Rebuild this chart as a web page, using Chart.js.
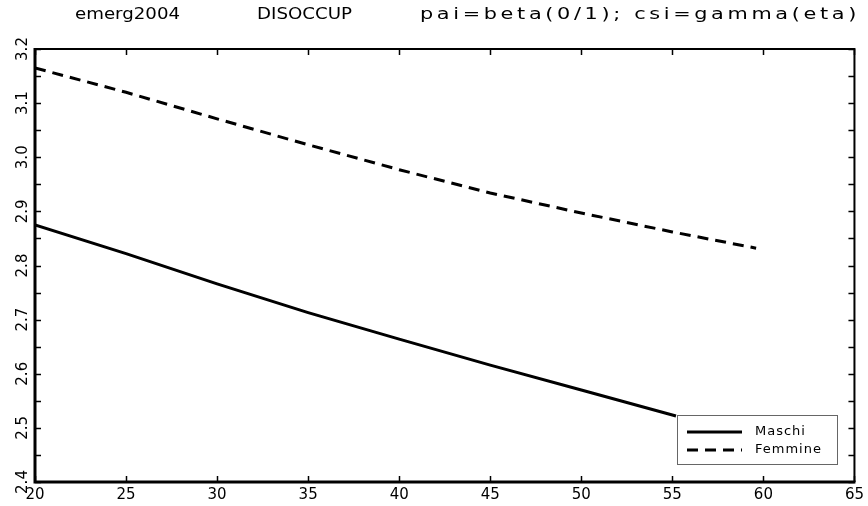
<!DOCTYPE html>
<html>
<head>
<meta charset="utf-8">
<script src="https://cdn.jsdelivr.net/npm/chart.js@4.4.1/dist/chart.umd.min.js"></script>
<style>
html,body{margin:0;padding:0;background:#fff;}
#wrap{width:868px;height:506px;}
</style>
</head>
<body>
<div id="wrap"><canvas id="c" width="868" height="506"></canvas></div>
<script>
// ---- data ----
const titleParts = ["emerg2004", "DISOCCUP", "pai=beta(0/1); csi=gamma(eta)"];
const seriesNames = ["Maschi", "Femmine"];
const agesMaschi = [20, 25, 30, 35, 40, 45, 50, 55.2];
const maschi     = [2.875, 2.822, 2.766, 2.713, 2.664, 2.616, 2.570, 2.522];
const agesFemmine = [20, 25, 30, 35, 40, 45, 50, 55, 59.6];
const femmine     = [3.165, 3.120, 3.071, 3.023, 2.977, 2.934, 2.897, 2.862, 2.832];
const xTicks = [20, 25, 30, 35, 40, 45, 50, 55, 60, 65];
const yTicks = [2.4, 2.5, 2.6, 2.7, 2.8, 2.9, 3.0, 3.1, 3.2];

const FONT = "'DejaVu Sans', sans-serif";

const framePlugin = {
  id: 'frame',
  afterDraw(chart) {
    const ctx = chart.ctx;
    const a = chart.chartArea;
    const xs = chart.scales.x, ys = chart.scales.y;
    ctx.save();
    ctx.strokeStyle = '#000';
    // inward ticks
    ctx.lineWidth = 1.5;
    xTicks.forEach(v => {
      const px = Math.round(xs.getPixelForValue(v)) + 0.5;
      ctx.beginPath();
      ctx.moveTo(px, a.bottom); ctx.lineTo(px, a.bottom - 6);
      ctx.moveTo(px, a.top); ctx.lineTo(px, a.top + 6);
      ctx.stroke();
    });
    for (let i = 0; i < yTicks.length * 2 - 1; i++) {
      const v = yTicks[0] + i * 0.05;
      const py = Math.round(ys.getPixelForValue(v)) + 0.5;
      ctx.beginPath();
      ctx.moveTo(a.left, py); ctx.lineTo(a.left + 6, py);
      ctx.moveTo(a.right, py); ctx.lineTo(a.right - 6, py);
      ctx.stroke();
    }
    // frame
    ctx.lineWidth = 2;
    ctx.beginPath();
    ctx.moveTo(a.left, a.top); ctx.lineTo(a.right, a.top); ctx.lineTo(a.right, a.bottom);
    ctx.stroke();
    ctx.lineWidth = 3;
    ctx.beginPath();
    ctx.moveTo(a.left, a.top - 1); ctx.lineTo(a.left, a.bottom); ctx.lineTo(a.right + 1, a.bottom);
    ctx.stroke();

    // title
    ctx.fillStyle = '#000';
    ctx.font = '16px ' + FONT;
    ctx.textBaseline = 'middle';
    const spans = [[75, 180], [257, 352], [420, 860]];
    titleParts.forEach((t, i) => {
      ctx.letterSpacing = '0px';
      const w = ctx.measureText(t).width;
      const target = spans[i][1] - spans[i][0];
      const sx = Math.min(1.3, target / w);
      const ls = Math.max(0, (target / sx - w) / t.length);
      ctx.save();
      ctx.translate(spans[i][0], 15);
      ctx.scale(sx, 1);
      ctx.letterSpacing = ls.toFixed(2) + 'px';
      ctx.fillText(t, 0, 0);
      ctx.restore();
    });
    ctx.letterSpacing = '0px';

    // legend box
    const lx = 677, ly = 415, lw = 160, lh = 49;
    ctx.fillStyle = '#fff';
    ctx.fillRect(lx, ly, lw, lh);
    ctx.strokeStyle = '#666';
    ctx.lineWidth = 1;
    ctx.strokeRect(lx + 0.5, ly + 0.5, lw, lh);
    chart.data.datasets.forEach((ds, i) => {
      const y = ly + 17 + i * 18;
      ctx.strokeStyle = '#000';
      ctx.lineWidth = 3;
      ctx.setLineDash(ds.borderDash || []);
      ctx.beginPath();
      ctx.moveTo(lx + 10, y); ctx.lineTo(lx + 65, y);
      ctx.stroke();
      ctx.setLineDash([]);
      ctx.fillStyle = '#000';
      ctx.font = '13px ' + FONT;
      ctx.letterSpacing = '1px';
      ctx.textBaseline = 'middle';
      ctx.fillText(ds.label, lx + 78, y);
      ctx.letterSpacing = '0px';
    });
    ctx.restore();
  }
};

new Chart(document.getElementById('c'), {
  type: 'line',
  data: {
    datasets: [
      {
        label: seriesNames[0],
        data: agesMaschi.map((x, i) => ({x: x, y: maschi[i]})),
        borderColor: '#000', borderWidth: 3, pointRadius: 0, tension: 0,
        borderCapStyle: 'butt', fill: false
      },
      {
        label: seriesNames[1],
        data: agesFemmine.map((x, i) => ({x: x, y: femmine[i]})),
        borderColor: '#000', borderWidth: 3, pointRadius: 0, tension: 0,
        borderDash: [11, 7], borderCapStyle: 'butt', fill: false
      }
    ]
  },
  options: {
    responsive: false,
    animation: false,
    devicePixelRatio: 1,
    layout: { padding: { top: 49, right: 11, left: 0, bottom: 0 } },
    plugins: { legend: { display: false }, title: { display: false }, tooltip: { enabled: false } },
    scales: {
      x: {
        type: 'linear', min: 20, max: 65,
        afterBuildTicks(s) { s.ticks = xTicks.map(v => ({value: v})); },
        afterFit(s) { s.height = 24; },
        ticks: { color: '#000', font: { family: FONT, size: 15 }, padding: 4, maxRotation: 0, autoSkip: false,
                 callback: v => String(v) },
        grid: { display: false, drawTicks: false },
        border: { display: false }
      },
      y: {
        type: 'linear', min: 2.4, max: 3.2,
        afterBuildTicks(s) { s.ticks = yTicks.map(v => ({value: v})); },
        afterFit(s) { s.width = 35; },
        ticks: { color: '#000', font: { family: FONT, size: 15 }, padding: 0, minRotation: 90, maxRotation: 90,
                 crossAlign: 'center', autoSkip: false, callback: v => Number(v).toFixed(1) },
        grid: { display: false, drawTicks: false },
        border: { display: false }
      }
    }
  },
  plugins: [framePlugin]
});
</script>
</body>
</html>
